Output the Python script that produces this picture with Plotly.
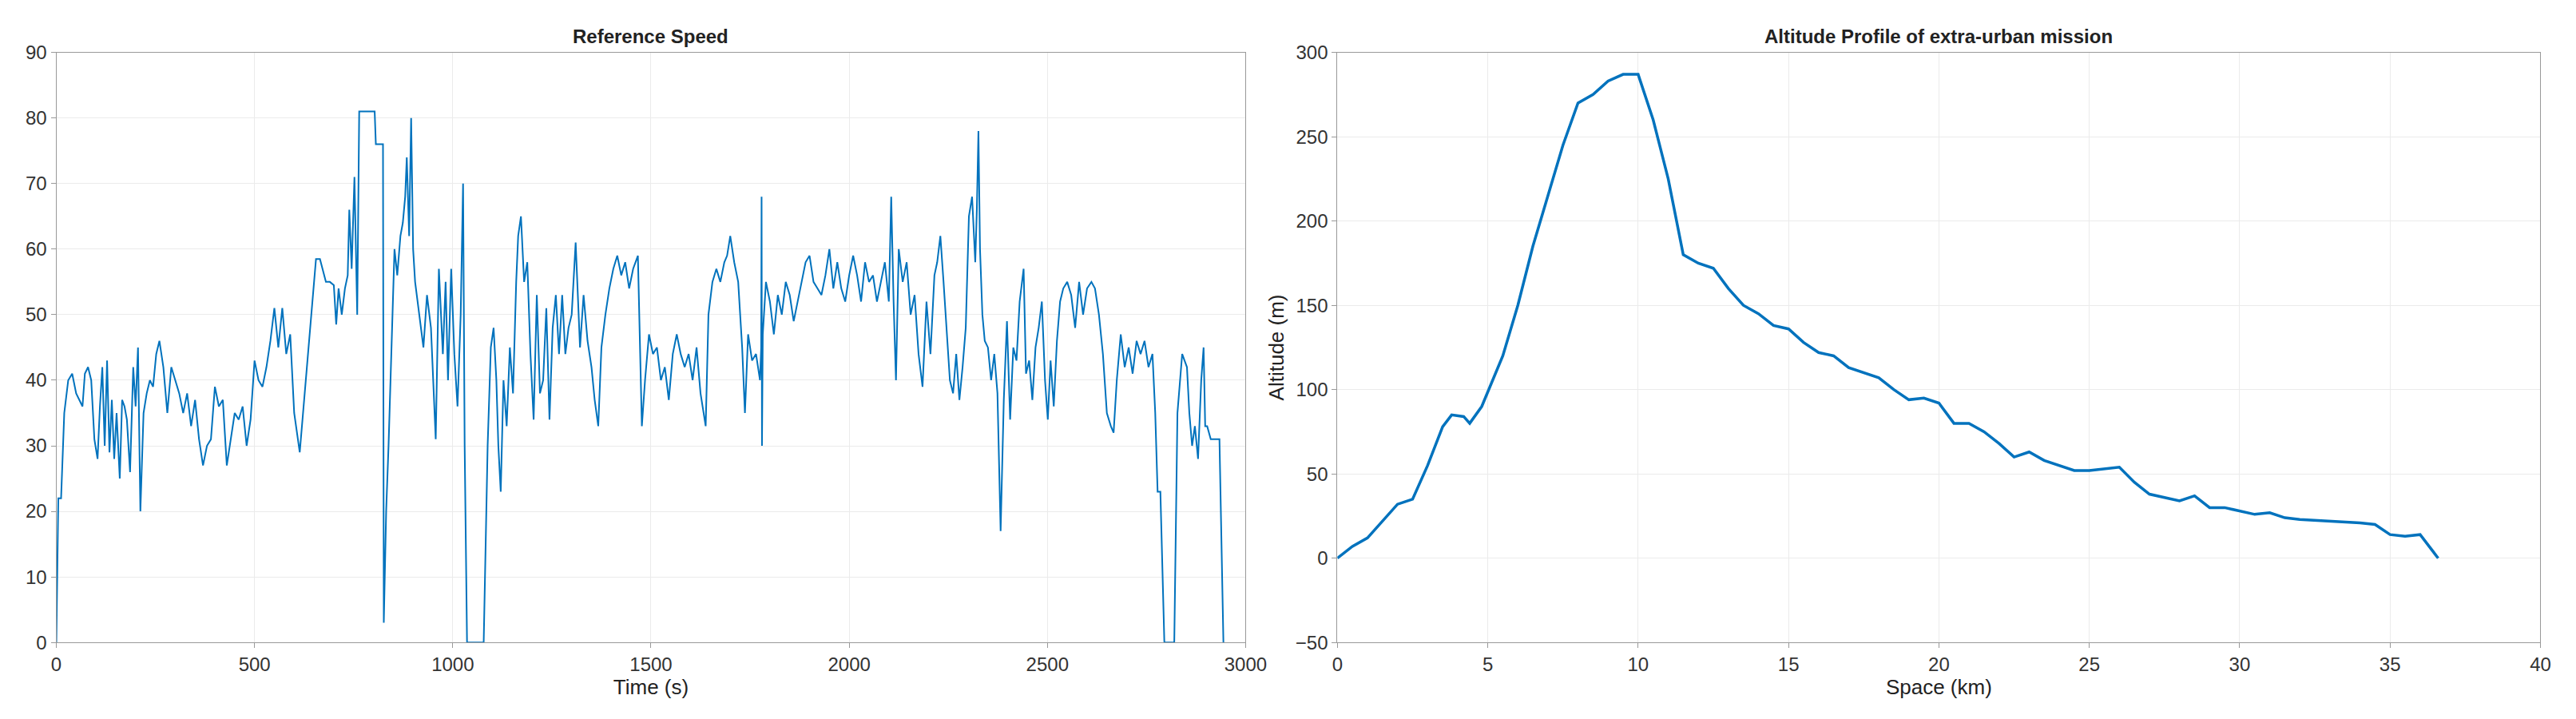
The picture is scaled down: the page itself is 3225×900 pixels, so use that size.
import plotly.graph_objects as go
from plotly.subplots import make_subplots

# Reference speed profile (time in s, speed)
time_s = [0, 5, 12, 20, 30, 40, 50, 58, 66, 72, 80, 88, 96, 104, 110, 116, 122, 128, 134,
          140, 146, 152, 160, 166, 172, 178, 186, 194, 200, 206, 212, 220, 228, 236, 244,
          252, 260, 270, 280, 290, 300, 310, 320, 330, 340, 350, 360, 370, 380, 390, 400,
          410, 420, 430, 440, 450, 460, 470, 480, 490, 500, 510, 520, 530, 540, 550, 560,
          570, 580, 590, 600, 614, 655, 665, 680, 690, 700, 706, 712, 720, 728, 735, 739,
          745, 752, 759, 764, 803, 806, 824, 826, 832, 838, 846, 853, 860, 868, 874, 880,
          884, 890, 895, 900, 905, 915, 926, 935, 945, 957, 965, 975, 982, 988, 996, 1004,
          1012, 1020, 1026, 1030, 1036, 1078, 1088, 1096, 1103, 1110, 1115, 1121, 1128,
          1136, 1144, 1152, 1160, 1165, 1172, 1180, 1188, 1196, 1204, 1212, 1220, 1228,
          1236, 1244, 1252, 1260, 1268, 1276, 1284, 1292, 1300, 1310, 1321, 1330, 1340,
          1350, 1358, 1367, 1375, 1385, 1395, 1405, 1415, 1425, 1435, 1445, 1455, 1467,
          1472, 1477, 1485, 1495, 1505, 1515, 1525, 1535, 1545, 1555, 1565, 1575, 1585,
          1595, 1605, 1615, 1625, 1638, 1645, 1655, 1665, 1675, 1685, 1692, 1700, 1710,
          1720, 1730, 1737, 1745, 1755, 1765, 1775, 1778, 1779, 1780, 1782, 1790, 1800,
          1810, 1820, 1830, 1840, 1850, 1860, 1870, 1880, 1890, 1900, 1910, 1920, 1930,
          1940, 1950, 1960, 1970, 1980, 1990, 2000, 2010, 2020, 2030, 2040, 2050, 2060,
          2070, 2080, 2090, 2100, 2106, 2112, 2118, 2125, 2135, 2145, 2155, 2165, 2175,
          2185, 2195, 2205, 2215, 2222, 2230, 2238, 2246, 2254, 2262, 2270, 2278, 2286,
          2294, 2302, 2310, 2318, 2322, 2326, 2330, 2336, 2342, 2350, 2358, 2366, 2374,
          2382, 2390, 2398, 2406, 2414, 2422, 2430, 2440, 2446, 2454, 2462, 2470, 2478,
          2486, 2494, 2501, 2508, 2516, 2524, 2532, 2540, 2550, 2560, 2570, 2580, 2590,
          2600, 2611, 2620, 2630, 2640, 2650, 2660, 2667, 2675, 2685, 2695, 2705, 2715,
          2725, 2735, 2745, 2755, 2765, 2772, 2778, 2785, 2795, 2820, 2828, 2834, 2840,
          2846, 2852, 2858, 2865, 2872, 2880, 2888, 2894, 2898, 2903, 2912, 2920, 2934,
          2944]
speed = [0, 22, 22, 35, 40, 41, 38, 37, 36, 41, 42, 40, 31, 28, 36, 42, 30, 43, 29,
         37, 28, 35, 25, 37, 36, 34, 26, 42, 36, 45, 20, 35, 38, 40, 39, 44, 46, 42, 35,
         42, 40, 38, 35, 38, 33, 37, 31, 27, 30, 31, 39, 36, 37, 27, 31, 35, 34, 36, 30,
         34, 43, 40, 39, 42, 46, 51, 45, 51, 44, 47, 35, 29, 58.5, 58.5, 55, 55, 54.5,
         48.5, 54, 50, 54, 56, 66, 57, 71, 50, 81, 81, 76, 76, 3, 20, 30, 45, 60, 56, 62,
         64, 68, 74, 62, 80, 60, 55, 50, 45, 53, 48, 31, 57, 44, 55, 40, 57, 44, 36, 50,
         70, 30, 0, 0, 30, 45, 48, 40, 30, 23, 40, 33, 45, 38, 55, 62, 65, 55, 58, 44,
         34, 53, 38, 40, 51, 34, 48, 53, 44, 53, 44, 48, 50, 61, 45, 53, 46,
         42, 37, 33, 45, 50, 54, 57, 59, 56, 58, 54, 57, 59,
         45, 33, 40, 47, 44, 45, 40, 42, 37, 44, 47, 44, 42,
         44, 40, 45, 38, 33, 50, 55, 57, 55, 58, 59, 62, 58,
         55, 45, 35, 47, 43, 44, 40, 45, 68, 30, 47, 55, 52,
         47, 53, 50, 55, 53, 49, 52, 55, 58, 59, 55, 54, 53,
         56, 60, 54, 58, 54, 52, 56, 59, 56, 52, 58, 55, 56,
         52, 55, 58, 52, 68, 52, 40, 60, 55, 58, 50, 53, 44,
         39, 52, 44, 56, 58, 62, 55, 47, 40, 38, 44, 37, 42,
         48, 65, 68, 58, 66, 78, 60, 50, 46, 45, 40, 44, 38,
         17, 37, 49, 34, 45, 43, 52, 57, 41, 43, 37, 45, 48,
         52, 40, 34, 43, 36, 46, 52, 54, 55, 53, 48, 55, 50,
         54, 55, 54, 50, 44, 35, 33, 32, 40, 47, 42, 45, 41,
         46, 44, 46, 42, 44, 35, 23, 23, 0, 0, 35, 40, 44,
         43, 42, 35, 30, 33, 28, 40, 45, 33, 33, 31, 31, 31,
         0]

# Altitude profile of extra-urban mission (space in km, altitude in m)
space_km = [0, 0.5, 1, 1.5, 2, 2.5, 3, 3.5, 3.8, 4.2, 4.4, 4.8, 5.5, 6, 6.5, 7, 7.5,
            8, 8.5, 9, 9.5, 10, 10.5, 11, 11.5, 12, 12.5, 13, 13.5, 14, 14.5, 15, 15.5,
            16, 16.5, 17, 17.5, 18, 18.5, 19, 19.5, 20, 20.5, 21, 21.5, 22, 22.5, 23,
            23.5, 24, 24.5, 25, 25.5, 26, 26.5, 27, 27.5, 28, 28.5, 29, 29.5, 30, 30.5,
            31, 31.5, 32, 33, 34, 34.5, 35, 35.5, 36, 36.6]
altitude = [0, 7, 12, 22, 32, 35, 55, 78, 85, 84, 80, 90, 120, 150, 185, 215, 245,
            270, 275, 283, 287, 287, 260, 225, 180, 175, 172, 160, 150, 145, 138, 136,
            128, 122, 120, 113, 110, 107, 100, 94, 95, 92, 80, 80, 75, 68, 60, 63, 58,
            55, 52, 52, 53, 54, 45, 38, 36, 34, 37, 30, 30, 28, 26, 27, 24, 23, 22, 21,
            20, 14, 13, 14, 0]

fig = make_subplots(rows=1, cols=2)
fig.add_trace(go.Scatter(x=time_s, y=speed, mode='lines',
                         line=dict(color='#0072BD', width=2)), row=1, col=1)
fig.add_trace(go.Scatter(x=space_km, y=altitude, mode='lines',
                         line=dict(color='#0072BD', width=3.5)), row=1, col=2)

ax = dict(showgrid=True, gridcolor='#ebebeb', showline=True, linecolor='#999999',
          linewidth=1, mirror=True, ticks='outside', ticklen=6, tickcolor='#999999',
          zeroline=False, tickfont=dict(size=24, color='#333333'))
fig.update_xaxes(**ax)
fig.update_yaxes(**ax)
fig.update_layout(
    width=3225, height=900, showlegend=False, plot_bgcolor='white', paper_bgcolor='white',
    font=dict(family='Liberation Sans, Arial', color='#222222'),
    margin=dict(l=0, r=0, t=0, b=0),
    xaxis=dict(domain=[0.0174, 0.484], range=[0, 3000], dtick=500,
               title=dict(text='Time (s)', font=dict(size=26), standoff=4)),
    yaxis=dict(domain=[0.104, 0.95], range=[0, 90], dtick=10),
    xaxis2=dict(domain=[0.52, 0.992], range=[0, 40], dtick=5,
                title=dict(text='Space (km)', font=dict(size=26), standoff=0)),
    yaxis2=dict(domain=[0.104, 0.95], range=[-50, 300], dtick=50,
                title=dict(text='Altitude (m)', font=dict(size=26), standoff=6)),
    annotations=[
        dict(text='<b>Reference Speed</b>', x=0.2507, y=0.955, xref='paper', yref='paper',
             xanchor='center', yanchor='bottom', showarrow=False, font=dict(size=24)),
        dict(text='<b>Altitude Profile of extra-urban mission</b>', x=0.756, y=0.955,
             xref='paper', yref='paper', xanchor='center', yanchor='bottom',
             showarrow=False, font=dict(size=24)),
    ],
)
fig.write_html("out.html")
